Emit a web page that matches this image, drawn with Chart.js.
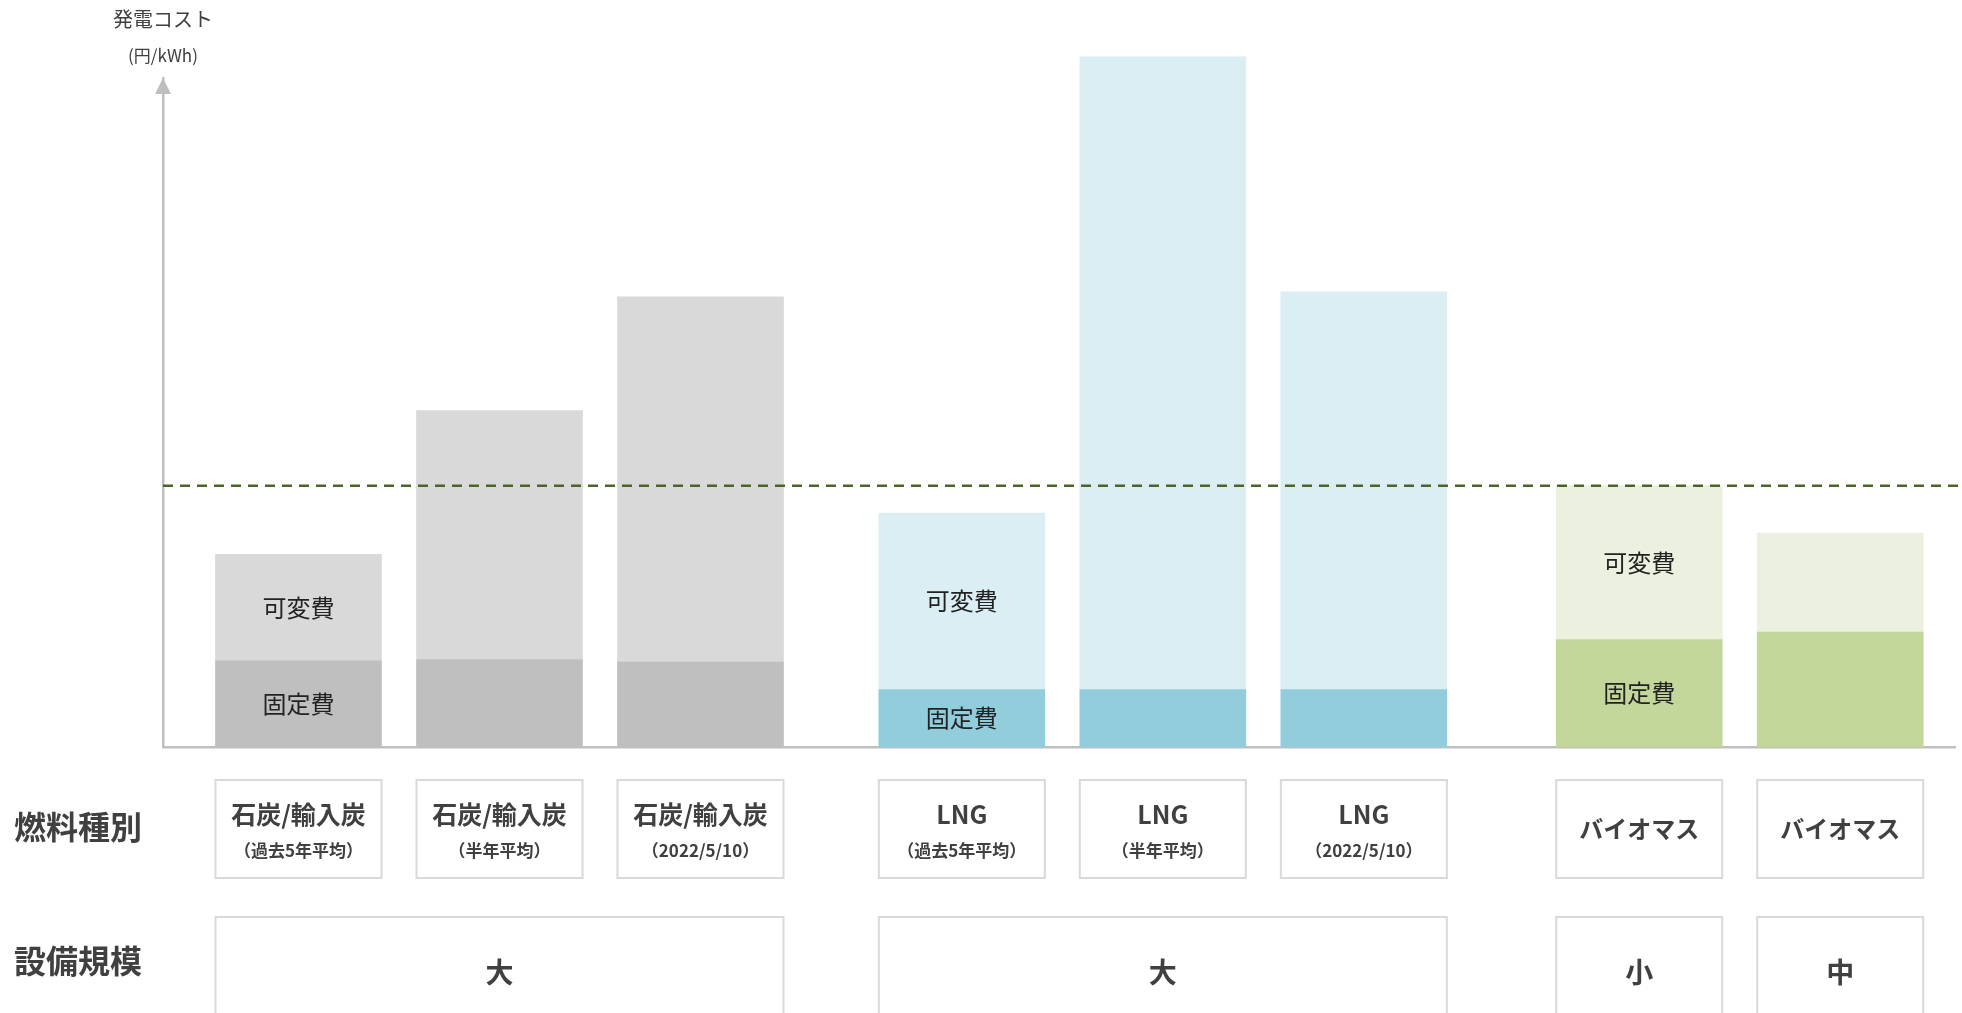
<!DOCTYPE html>
<html>
<head>
<meta charset="utf-8">
<script src="https://cdn.jsdelivr.net/npm/chart.js@4.4.1/dist/chart.umd.min.js"></script>
<style>
  html, body { margin: 0; padding: 0; background: #fff; }
  canvas { display: block; }
</style>
</head>
<body>
<canvas id="costChart" width="1962" height="1013"></canvas>
<script>
// data (円/kWh, approximate)
const fuelLabels = ["石炭/輸入炭", "石炭/輸入炭", "石炭/輸入炭", "LNG", "LNG", "LNG", "バイオマス", "バイオマス"];
const periodLabels = ["（過去5年平均）", "（半年平均）", "（2022/5/10）", "（過去5年平均）", "（半年平均）", "（2022/5/10）", "", ""];
const groupOf = [0, 0, 0, 1, 1, 1, 2, 2];
const fixedCost = [6.9, 7.0, 6.8, 4.6, 4.6, 4.6, 8.6, 9.2];
const variableCost = [8.5, 19.9, 29.2, 14.1, 50.6, 31.8, 12.3, 7.9];
const referenceLine = 20.9;
const scaleLabels = ["大", "大", "小", "中"];
const scaleFrom = [0, 3, 6, 7];
const scaleTo = [2, 5, 6, 7];
const labelledBars = [0, 3, 6];

const fixedColors = ["#bfbfbf", "#92cddc", "#c4d79b"];
const variableColors = ["#d9d9d9", "#daeef3", "#ebf1de"];
const groupGap = [0, 0.3, 0.67];
const FONT = "'Noto Sans CJK JP', 'Noto Sans', sans-serif";
const TEXT = "#404040";

const pos = groupOf.map((g, i) => i + groupGap[g]);

const decorations = {
  id: "decorations",
  afterDraw(chart) {
    const c = chart.ctx;
    const area = chart.chartArea;
    const xs = chart.scales.x;
    const ys = chart.scales.y;
    const axisX = area.left;

    c.save();
    // axis title
    c.fillStyle = TEXT;
    c.textAlign = "center";
    c.textBaseline = "middle";
    c.font = "20px " + FONT;
    c.fillText("発電コスト", axisX, 19);
    c.font = "17px " + FONT;
    c.fillText("(円/kWh)", axisX, 56);

    // arrow head
    c.fillStyle = "#bfbfbf";
    c.beginPath();
    c.moveTo(axisX, area.top);
    c.lineTo(axisX - 8, area.top + 16);
    c.lineTo(axisX + 8, area.top + 16);
    c.closePath();
    c.fill();

    // reference dashed line
    const ry = ys.getPixelForValue(referenceLine);
    c.strokeStyle = "#4f6228";
    c.lineWidth = 2.5;
    c.setLineDash([10, 7]);
    c.beginPath();
    c.moveTo(axisX, ry);
    c.lineTo(chart.width, ry);
    c.stroke();
    c.setLineDash([]);

    // segment labels on first bar of each group
    const fixedMeta = chart.getDatasetMeta(0);
    const varMeta = chart.getDatasetMeta(1);
    c.fillStyle = "#222";
    c.font = "24px " + FONT;
    labelledBars.forEach(i => {
      const f = fixedMeta.data[i];
      const v = varMeta.data[i];
      c.fillText(chart.data.datasets[0].label, f.x, (f.y + f.base) / 2);
      c.fillText(chart.data.datasets[1].label, v.x, (v.y + v.base) / 2);
    });

    // fuel type boxes
    const half = 83;
    c.strokeStyle = "#d9d9d9";
    c.lineWidth = 2;
    fuelLabels.forEach((label, i) => {
      const cx = xs.getPixelForValue(pos[i]);
      c.strokeRect(cx - half, 780, half * 2, 98);
      c.fillStyle = TEXT;
      if (periodLabels[i]) {
        c.font = "bold 25px " + FONT;
        c.fillText(label, cx, 814);
        c.font = "bold 17px " + FONT;
        c.fillText(periodLabels[i], cx, 851);
      } else {
        c.font = "bold 24px " + FONT;
        c.fillText(label, cx, 829);
      }
    });

    // plant scale boxes
    scaleLabels.forEach((label, k) => {
      const x0 = xs.getPixelForValue(pos[scaleFrom[k]]) - half;
      const x1 = xs.getPixelForValue(pos[scaleTo[k]]) + half;
      c.strokeRect(x0, 917, x1 - x0, 120);
      c.fillStyle = TEXT;
      c.font = "bold 28px " + FONT;
      c.fillText(label, (x0 + x1) / 2, 972);
    });

    // row headings
    c.textAlign = "left";
    c.font = "bold 32px " + FONT;
    c.fillText("燃料種別", 14, 827);
    c.fillText("設備規模", 14, 961);
    c.restore();
  }
};

const ctx = document.getElementById("costChart");
const chart = new Chart(ctx, {
  type: "bar",
  data: {
    datasets: [
      {
        label: "固定費",
        data: fixedCost.map((v, i) => ({ x: pos[i], y: v })),
        backgroundColor: groupOf.map(g => fixedColors[g]),
        barThickness: 166,
        clip: false
      },
      {
        label: "可変費",
        data: variableCost.map((v, i) => ({ x: pos[i], y: v })),
        backgroundColor: groupOf.map(g => variableColors[g]),
        barThickness: 166,
        clip: false
      }
    ]
  },
  options: {
    responsive: false,
    animation: false,
    layout: { padding: { left: 163, right: 7, top: 78, bottom: 266 } },
    scales: {
      x: {
        type: "linear",
        stacked: true,
        offset: false,
        min: -0.674,
        max: 8.241,
        ticks: { display: false },
        grid: { display: false, drawTicks: false },
        border: { display: true, color: "#bfbfbf", width: 2.5 },
        afterFit: s => { s.height = 0; }
      },
      y: {
        stacked: true,
        min: 0,
        max: 53.5,
        ticks: { display: false },
        grid: { display: false, drawTicks: false },
        border: { display: true, color: "#bfbfbf", width: 2.5 },
        afterFit: s => { s.width = 0; }
      }
    },
    plugins: {
      legend: { display: false },
      tooltip: { enabled: false }
    }
  },
  plugins: [decorations]
});
</script>
</body>
</html>
